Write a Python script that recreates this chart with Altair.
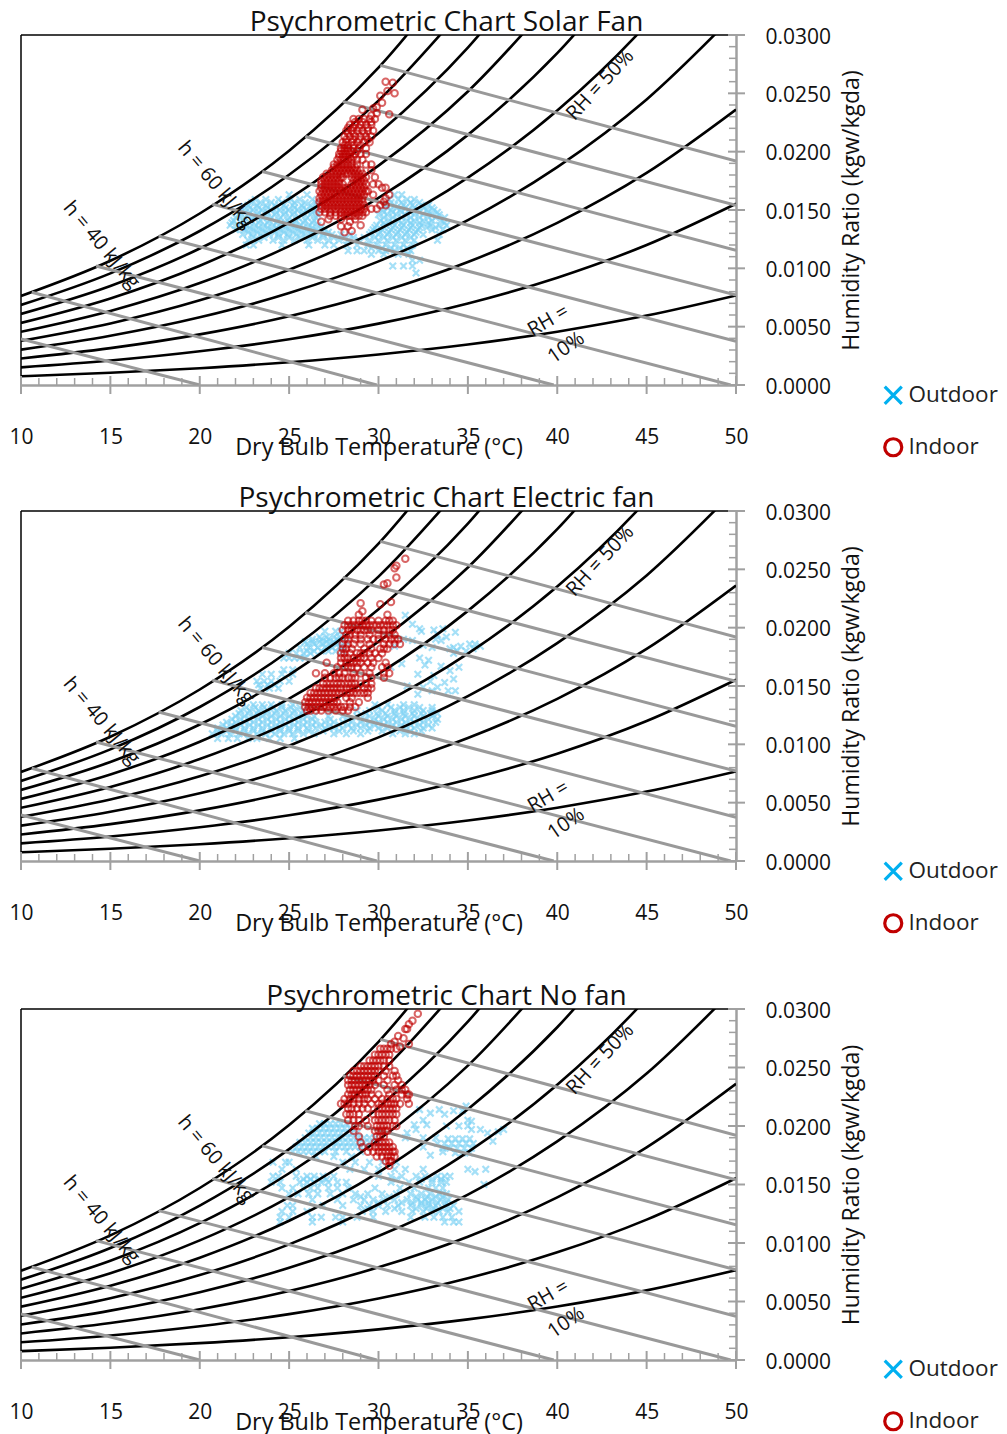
import altair as alt
import pandas as pd

FONT = "Open Sans"
SERIES = ["Outdoor", "Indoor"]
T_GRID = [10, 15, 20, 25, 30, 35, 40, 45, 50]
RH_CURVES = {
    10: [.000755, .00105, .00144, .00195, .00262, .00347, .00457, .00595, .00768],
    20: [.001511, .00210, .00289, .00392, .00526, .00699, .00920, .01200, .01554],
    30: [.00227, .00316, .00434, .00589, .00792, .01054, .01390, .01818, .02361],
    40: [.00303, .00422, .00580, .00788, .01060, .01413, .01868, .02448, .03188],
    50: [.00379, .00528, .00726, .00988, .01331, .01777, .02352, .03091, .04037],
    60: [.00456, .00635, .00874, .01190, .01604, .02144, .02844, .03746, None],
    70: [.00532, .00742, .01022, .01392, .01880, .02516, .03344, None, None],
    80: [.00609, .00849, .01170, .01596, .02158, .02892, .03851, None, None],
    90: [.00686, .00957, .01320, .01802, .02438, .03273, None, None, None],
    100: [.00763, .01065, .01470, .02008, .02720, .03658, None, None, None],
}
# enthalpy lines: (start T, start w, end T, end w)
H_LINES = {
    20: (10, .00394, 20, 0),
    30: (10.6, .00795, 29.9, 0),
    40: (14.2, .0102, 39.8, 0),
    50: (17.7, .01277, 49.7, 0),
    60: (20.7, .0155, 50, .00374),
    70: (23.5, .0183, 50, .0077),
    80: (25.9, .0213, 50, .01155),
    90: (28.0, .0243, 50, .0154),
    100: (30.1, .0274, 50, .0192),
}
X_MAJOR = [10, 15, 20, 25, 30, 35, 40, 45, 50]
X_MINOR = [11, 12, 13, 14, 16, 17, 18, 19, 21, 22, 23, 24, 26, 27, 28, 29, 31, 32, 33, 34, 36, 37, 38, 39, 41, 42, 43, 44, 46, 47, 48, 49]
Y_MAJOR = [0, .005, .01, .015, .02, .025, .03]
Y_MINOR = [.001, .002, .003, .004, .006, .007, .008, .009, .011, .012, .013, .014, .016, .017, .018, .019, .021, .022, .023, .024, .026, .027, .028, .029]
LABELS = [("h = 60 kJ/kg", 20.9, .01715, 50), ("h = 40 kJ/kg", 14.5, .0120, 50),
          ("RH = 50%", 42.4, .0257, 313), ("RH =", 39.5, .0055, 330), ("10%", 40.5, .0032, 325)]

# humidity ratio in g/kg: [dry bulb temperatures read along that row]
SOLAR_OUT = [
 (16.3,[25.0,26.0,30.9,31.3]),
 (15.9,[23.1,23.7,24.4,25.1,25.6,26.3,30.6,31.1,31.6,32.0]),
 (15.65,[22.9,23.4,24.0,24.6,25.3,25.9,26.5,30.7,31.3,31.8,32.3]),
 (15.4,[22.7,23.2,23.7,24.2,24.7,25.2,25.7,26.2,26.6,30.4,30.9,31.4,31.9,32.4,32.8]),
 (15.2,[22.8,23.3,23.8,24.3,24.8,25.3,25.8,26.3,30.5,31.0,31.5,32.0,32.5,33.0]),
 (15.0,[22.5,23.0,23.5,24.0,24.5,25.0,25.5,26.0,26.5,30.2,30.7,31.2,31.7,32.2,32.7,33.1]),
 (14.8,[22.3,22.8,23.3,23.8,24.3,24.8,25.3,25.8,26.3,30.3,30.8,31.3,31.8,32.3,32.8,33.3]),
 (14.6,[22.2,22.7,23.2,23.7,24.2,24.7,25.2,25.7,26.2,26.6,30.0,30.5,31.0,31.5,32.0,32.5,33.0,33.4]),
 (14.35,[22.0,22.5,23.0,23.5,24.0,24.5,25.0,25.5,26.0,26.5,30.3,30.8,31.3,31.8,32.3,32.8,33.2,33.7]),
 (14.1,[21.9,22.4,22.9,23.4,23.9,24.4,24.9,25.4,25.9,26.4,30.1,30.6,31.1,31.6,32.0,32.5,33.0,33.5]),
 (13.9,[21.8,22.3,22.8,23.3,23.8,24.3,24.8,25.3,25.8,26.3,30.3,30.8,31.3,31.8,32.3,32.8,33.7]),
 (13.7,[21.7,22.1,22.6,23.1,23.6,24.1,24.6,25.1,25.6,26.1,26.6,29.9,30.4,30.9,31.4,31.9,32.4,32.9,33.4,33.8]),
 (13.5,[22.3,22.8,23.3,23.8,24.3,24.8,25.3,25.8,26.3,26.8,29.8,30.3,30.8,31.3,31.8,32.3,32.7,33.2]),
 (13.3,[22.0,22.5,23.0,23.5,24.0,24.5,25.0,25.5,26.0,26.5,27.0,29.7,30.2,30.7,31.2,31.7,32.2,33.0,33.6]),
 (13.1,[22.7,23.2,23.7,24.2,24.7,25.2,25.7,26.2,26.7,27.2,29.6,30.1,30.6,31.1,31.6,32.1]),
 (12.9,[22.4,22.9,23.4,23.9,24.4,24.9,25.4,25.9,26.4,26.9,27.4,27.9,28.4,29.5,30.0,30.5,31.0,31.5,32.0,32.5,33.4]),
 (12.65,[23.0,23.6,24.4,25.0,25.6,26.3,26.9,27.5,28.1,28.6,29.2,29.8,30.3,30.8,31.3,31.8]),
 (12.4,[22.7,23.3,24.1,24.7,25.3,26.0,26.6,27.2,27.8,28.3,28.9,29.5,30.0,30.5,31.0,31.5,32.0,33.3]),
 (12.0,[22.6,23.0,24.6,26.1,27.0,27.5,28.2,28.8,29.4,29.9,30.4,30.9,31.4,31.9]),
 (11.75,[29.6,30.2,30.7,31.2,31.6]),
 (11.5,[28.3,28.8,29.2,30.0,30.4,30.9,31.4,31.8]),
 (11.2,[29.6,30.3,31.1,31.7]),
 (10.7,[31.9,32.3]),
 (10.2,[30.8,31.4,31.9]),
 (9.6,[32.1]),
]
SOLAR_IN = [
 (26.0,[30.4]),(25.9,[30.8]),(25.2,[30.5]),(25.0,[30.9]),(24.8,[30.1]),(24.2,[30.2]),
 (23.8,[29.9]),(23.7,[29.7]),(23.6,[29.1]),(23.3,[29.9]),(23.2,[30.6]),(23.1,[29.6]),
 (22.8,[28.6,28.9,29.2,29.5,29.8]),
 (22.55,[28.7,29.1,29.6]),
 (22.3,[28.4,28.7,29.0,29.3,29.6]),
 (22.05,[28.3,28.6,28.9,29.4]),
 (21.8,[28.2,28.5,28.8,29.1,29.4,29.7]),
 (21.55,[28.3,28.6,29.2]),
 (21.3,[28.1,28.4,28.7,29.0,29.3,29.6]),
 (21.05,[28.2,28.6,28.9,29.4]),
 (20.8,[28.0,28.2,28.5,28.8,29.2,29.5]),
 (20.55,[28.1,28.3,28.6,29.0]),
 (20.3,[27.9,28.1,28.3,28.6,28.9,29.3]),
 (20.05,[27.9,28.1,28.3,28.5,28.8]),
 (19.8,[27.8,28.0,28.2,28.4,28.7,29.0,29.3]),
 (19.55,[27.8,28.0,28.2,28.4,28.6]),
 (19.3,[27.7,27.9,28.1,28.3,28.5,28.8,29.1]),
 (18.9,[27.5,27.7,27.9,28.1,28.3,28.5,28.8,29.3,29.6]),
 (18.65,[27.5,27.7,27.9,28.1,28.3,28.5,28.7]),
 (18.4,[27.4,27.6,27.8,28.0,28.2,28.4,28.6,28.8,29.0,29.6]),
 (18.1,[27.1,27.3,27.5,27.7,27.9,28.1,28.3,28.5,28.7,28.9,29.1]),
 (17.8,[26.9,27.1,27.3,27.5,27.7,27.9,28.0,28.5,28.7,28.9,29.1,29.3,29.8]),
 (17.5,[26.8,27.0,27.2,27.4,27.6,27.8,28.6,28.8,29.0,29.2]),
 (17.2,[26.8,27.0,27.2,27.4,27.6,27.8,28.0,28.5,28.7,28.9,29.1,29.3,29.7,30.0]),
 (16.9,[26.8,27.0,27.2,27.4,27.6,27.8,28.0,28.2,28.4,28.6,28.8,29.0,29.2,30.2,30.4]),
 (16.6,[26.7,26.9,27.1,27.3,27.5,27.7,27.9,28.1,28.3,28.5,28.7,28.9,29.1,29.3,29.4]),
 (16.3,[26.8,27.0,27.2,27.4,27.6,27.8,28.0,28.2,28.4,28.6,28.8,29.0,29.2,29.7,30.6]),
 (16.0,[26.7,26.9,27.1,27.3,27.5,27.7,27.9,28.1,28.3,28.5,28.7,28.9,29.1,30.4]),
 (15.7,[26.7,26.9,27.1,27.3,27.5,27.7,27.9,28.1,28.3,28.5,28.7,28.9,29.1,30.3]),
 (15.4,[26.8,27.0,27.2,27.4,27.6,27.8,28.0,28.2,28.4,28.6,28.8,29.0,29.2,30.4,30.1]),
 (15.1,[26.8,27.0,27.2,27.4,27.6,27.8,28.0,28.2,28.4,28.6,28.8,29.0,29.2,29.6,29.9]),
 (14.8,[26.7,27.0,27.3,27.6,27.9,28.1,28.3,28.5,28.7,28.9,29.1,29.3]),
 (14.5,[27.3,27.6,27.9,28.1,28.3,28.5,28.7,28.9,29.1]),
 (14.2,[27.2,27.9,28.7]),(14.0,[26.8,28.4]),(13.7,[29.0]),(13.6,[27.9,28.3]),(13.2,[28.5]),(13.1,[28.1]),
]
ELEC_OUT = [
 (10.5,[21.0,21.6,22.1,22.7,23.2,23.9,24.5,25.3]),
 (10.9,[20.7,21.2,21.7,22.2,22.7,23.2,23.7,24.2,24.7,25.2,25.8,26.4,27.5,28.2,29.0,30.8,31.5,32.0]),
 (11.15,[21.0,21.5,22.0,22.5,23.0,23.5,24.0,24.5,25.0,25.5,26.1,26.9,27.8,28.6,29.4,30.2,31.2,31.8,32.4]),
 (11.4,[21.0,21.5,22.0,22.5,23.0,23.5,24.0,24.5,25.0,25.5,26.0,26.5,27.0,27.5,28.0,28.5,29.0,29.5,30.0,30.5,31.0,31.5,32.0,32.5,33.0]),
 (11.65,[21.3,21.8,22.3,22.8,23.3,23.8,24.3,24.8,25.3,25.8,26.3,26.8,27.3,27.8,28.3,28.8,29.3,29.8,30.3,30.8,31.3,31.8,32.3,32.8]),
 (11.9,[21.5,22.0,22.5,23.0,23.5,24.0,24.5,25.0,25.5,26.0,26.5,27.0,27.5,28.0,28.5,29.0,29.5,30.0,30.5,31.0,31.5,32.0,32.5,33.2]),
 (12.15,[21.8,22.3,22.8,23.3,23.8,24.3,24.8,25.3,25.8,26.3,27.3,28.3,29.2,29.8,30.3,30.8,31.3,31.8,32.3,32.8,33.3]),
 (12.4,[22.0,22.5,23.0,23.5,24.0,24.5,25.0,25.5,26.0,26.4,27.2,28.0,28.8,29.5,30.0,30.5,31.0,31.5,32.0,32.5,33.0]),
 (12.65,[22.2,22.7,23.2,23.7,24.2,24.7,25.2,25.7,29.3,29.9,30.4,30.9,31.4,31.9,32.4,32.9,33.3]),
 (12.9,[22.3,22.8,23.3,23.8,24.3,24.8,25.3,25.8,28.8,29.5,30.2,30.9,31.4,32.0,32.5,33.0]),
 (13.15,[22.6,23.1,23.6,24.1,24.6,25.1,25.6,30.0,30.7,31.2,31.7,32.3,33.0]),
 (13.4,[23.0,23.5,24.0,24.6,25.2,29.8,30.5,31.4,32.0]),
 (14.6,[33.0,33.9,34.3]),(14.8,[23.4,23.9,24.4]),(14.3,[32.2]),(14.9,[32.5,33.3]),(15.0,[31.6]),
 (15.1,[23.3,23.8,24.2]),
 (15.4,[23.2,23.6,24.0,24.5,25.0,32.9]),(15.3,[33.7]),(15.6,[34.2]),(15.9,[33.1]),
 (16.0,[23.5,24.0,24.6,25.2,32.2]),(16.3,[34.0]),(16.4,[24.7,25.2]),(16.6,[30.7,34.5]),(16.7,[33.5]),(16.8,[32.6]),(16.9,[31.3]),
 (17.2,[32.8]),(17.4,[24.7,25.0,25.3,25.6,25.9,32.3]),(17.8,[25.0,25.4,25.8,26.2,34.2]),(18.0,[34.4,34.9,26.0,26.4,26.8,27.2,27.6,28.0]),(18.2,[34.0,35.3]),
 (18.3,[25.6,26.1,26.6,27.0,27.4,27.8,28.0,33.0,34.2]),(18.4,[30.9,34.6,35.7]),(18.5,[32.5]),(18.6,[35.1,35.4,26.0,26.4,26.9,27.3,27.7]),
 (18.8,[25.9,26.3,26.7,27.1,27.5,27.9,28.2]),(18.9,[31.9,33.5]),(19.0,[31.4,33.2,26.3,26.8,27.2,27.7]),(19.2,[26.7,27.1,27.5,27.8,33.8]),
 (19.4,[33.3]),(19.6,[34.3]),(19.7,[27.0,27.6,27.9,32.4]),(19.8,[33.1]),(19.9,[32.3,33.6]),(20.3,[31.9]),(21.06,[31.5]),
]
ELEC_IN = [
 (25.9,[31.5]),(25.3,[31.0]),(25.1,[30.9]),(24.3,[31.0]),(23.8,[30.5]),(23.7,[30.3]),(22.2,[30.7]),(22.0,[30.1]),(22.1,[29.0]),
 (21.4,[29.1]),(21.1,[28.9,30.5]),
 (20.6,[28.3,28.6,28.9,29.1,29.3,29.6,30.0,30.4,30.6,30.8]),
 (20.2,[28.1,28.3,28.5,28.7,28.9,29.1,29.3,29.5,29.7,29.9,30.1,30.3,30.5,30.8,31.0]),
 (19.8,[28.0,28.3,28.5,28.8,29.0,29.2,29.4,29.6,30.0,30.3,30.6,30.8]),
 (19.4,[28.2,28.4,28.7,29.0,29.5,30.0,30.3,30.6,30.9]),
 (19.0,[28.1,28.3,28.7,29.0,29.4,29.7,30.0,30.4,30.7,30.9,31.1]),
 (18.6,[28.0,28.3,28.6,29.0,29.5,30.3,30.6,30.9,31.2]),
 (18.2,[28.0,28.2,28.5,29.2,29.6,30.1,30.3,30.5]),
 (17.8,[27.9,28.1,28.4,28.8,29.0,29.2,29.5,29.8,30.2]),
 (17.4,[27.9,28.1,28.3,28.6,28.8,29.0,29.2,29.6,30.0]),
 (17.0,[27.1,27.9,28.2,28.4,28.6,28.8,29.0,29.4,29.7,30.4]),
 (16.6,[27.7,28.1,28.3,28.5,28.8,29.2,29.6,30.2,30.5]),
 (16.1,[26.5,27.0,27.5,27.8,28.1,28.6,29.0,29.5,30.3,30.6]),
 (15.7,[27.0,27.3,27.6,27.8,28.0,28.3,28.5,28.7,29.3,29.6,30.3]),
 (15.2,[26.9,27.1,27.3,27.5,27.7,27.9,28.1,28.3,28.5,28.7,29.0,29.3,29.6]),
 (14.8,[26.5,26.7,26.9,27.1,27.3,27.5,27.7,27.9,28.2,28.4,28.6,28.8,29.2,29.4,29.6]),
 (14.4,[26.2,26.4,26.6,26.8,27.0,27.2,27.4,27.6,27.8,28.0,28.2,28.4,28.6,28.8,29.0,29.2,29.4]),
 (14.0,[26.0,26.2,26.4,26.6,26.8,27.0,27.2,27.4,27.6,28.2,28.5,29.4]),
 (13.6,[25.9,26.1,26.3,26.5,26.7,26.9,27.1,27.3,27.5,27.7,28.4,28.9]),
 (13.2,[25.9,26.1,26.3,26.5,26.7,26.9,27.1,27.3,27.5,27.7,27.9,28.1,28.4,28.7]),
 (12.9,[26.0,26.2,26.5,26.8,27.2,27.6,28.0,28.3]),
]
NOFAN_OUT = [
 (21.7,[34.9]),(21.4,[33.4,32.3]),(21.3,[34.2,34.7]),(21.1,[32.9]),(21.0,[33.7]),(20.5,[32.5,35.0]),(20.4,[35.2]),
 (20.2,[26.7,27.0,27.3,27.6,27.9,28.2]),(20.1,[32.7,32.0]),(20.0,[33.8,34.5,35.0]),
 (19.8,[26.3,26.6,26.9,27.2,27.5,27.8,28.1,28.4]),(19.7,[32.1,35.7,37.0,35.2]),(19.5,[36.7]),
 (19.4,[26.1,26.4,26.7,27.0,27.3,27.6,27.9,28.2,28.5,28.8,31.6,36.1]),
 (19.0,[25.9,26.2,26.5,26.8,27.1,27.4,27.7,28.0,28.3,28.6,28.9,29.2,29.5,29.8,32.5,33.2,31.5]),
 (18.9,[33.9,34.3,34.7,35.1]),(18.7,[36.4]),
 (18.6,[25.6,25.9,26.2,26.5,26.8,27.1,27.4,27.7,28.0,28.3,28.6,28.9,29.2,29.5,29.8,30.0]),
 (18.5,[33.3,33.7,34.1,34.5,34.9,35.3]),
 (18.2,[25.4,25.7,26.0,26.3,26.6,26.9,27.2,27.5,27.8,28.1,28.4,28.7,29.0,29.3,32.5]),
 (18.1,[33.6,34.0,34.4,34.8,35.2]),
 (17.8,[25.2,25.5,25.8,26.1,26.4,26.7,27.0,27.6,28.2,29.0,33.6]),
 (17.7,[34.3,34.7,35.1]),(17.5,[32.9]),(17.4,[26.5,27.5,28.5]),
 (16.9,[24.1,24.8,25.0,28.0,28.7,29.5,30.2,31.0]),
 (16.3,[24.6,25.4,28.4,29.2,30.0,30.9,31.5,32.5,35.0,36.0]),(16.1,[35.4]),
 (15.7,[24.1,24.4,25.4,26.0,26.4,26.9,27.5,30.0,30.7,31.3,32.1,32.6,33.3,33.7,34.0]),
 (15.45,[25.8,26.2,26.7,27.1,31.0,32.4,33.0,33.5]),
 (15.2,[24.0,24.5,25.6,26.0,26.4,26.8,27.2,27.7,28.2,30.7,31.7,32.3,33.0,33.5,33.8]),(15.0,[35.9]),
 (14.7,[24.6,25.2,25.8,26.2,26.6,27.2,27.7,28.3,29.8,31.2,32.0,32.8,33.2,33.6]),
 (14.2,[25.0,25.5,26.1,26.6,27.3,28.0,28.7,29.4,30.2,31.0,31.8,32.4,32.9,33.4,33.8]),
 (13.95,[29.0,30.6,32.1,32.7,33.2,33.6]),
 (13.7,[26.3,27.7,28.6,29.2,29.7,30.3,30.9,31.6,32.2,32.6,33.0,33.5,33.9]),
 (13.45,[30.0,31.3,31.9,32.4,32.8,33.3,33.8]),
 (13.2,[24.9,25.2,26.9,28.0,29.0,29.5,30.0,30.5,31.1,31.8,32.4,32.8,33.2,33.7,34.2]),
 (12.95,[29.4,30.9,32.1,32.7,33.1,33.6,34.0]),
 (12.7,[24.6,25.2,26.0,29.1,29.7,30.4,31.3,31.9,32.5,33.0,33.4,33.9,34.5]),
 (12.2,[24.5,25.0,26.3,26.8,27.6,28.0,28.8,29.7,31.8,32.6,33.1,33.6,34.1]),
 (11.8,[24.5,26.3,28.0,33.7,34.2,34.5]),
]
NOFAN_IN = [
 (29.6,[32.2]),(29.0,[31.9]),(28.7,[31.7]),(28.3,[31.5,31.6]),(27.7,[31.1]),(27.5,[31.4]),(27.2,[30.9]),(27.0,[30.7,31.7]),(26.8,[31.2]),
 (26.6,[30.1,30.3,30.5,30.7,31.0]),
 (26.1,[29.8,30.0,30.2,30.4,30.6]),
 (25.6,[29.5,29.7,29.9,30.1,30.3,30.6]),
 (25.1,[29.0,29.2,29.4,29.6,29.8,30.0,30.3,30.6]),
 (24.7,[28.6,28.8,29.0,29.2,29.4,29.6,29.8,30.0,30.4,30.9]),
 (24.3,[28.4,28.6,28.8,29.0,29.2,29.4,29.6,29.8,30.3,30.8,31.0]),
 (23.9,[28.3,28.5,28.7,28.9,29.1,29.3,29.5,29.7,30.0,30.5,31.1]),
 (23.5,[28.3,28.5,28.7,28.9,29.1,29.3,29.5,29.8,30.3,30.9,31.3]),
 (23.1,[28.4,28.6,28.8,29.0,29.2,29.4,29.6,30.5,31.0,31.3,31.5]),
 (22.7,[28.3,28.5,28.7,28.9,29.1,29.3,29.6,30.0,30.6,31.3,31.6,31.7]),
 (22.3,[28.1,28.4,28.6,28.9,29.2,29.4,29.8,30.2,30.5,30.8,31.0,31.6]),
 (21.9,[27.9,28.1,28.3,28.6,28.9,29.2,29.6,30.0,30.2,30.5,30.7,30.9,31.2,31.7]),
 (21.5,[28.3,28.5,28.8,29.1,29.4,30.0,30.2,30.4,30.6,30.8,31.0]),
 (21.0,[28.2,28.4,28.6,28.9,29.7,30.0,30.2,30.4,30.6,30.8,31.0]),
 (20.5,[28.3,28.6,28.9,29.3,29.8,30.0,30.2,30.4,30.6,30.9]),
 (20.0,[28.7,28.9,29.4,29.9,30.1,30.3,30.5,30.8,31.0]),
 (19.6,[28.6,29.8,30.0,30.2,30.4,30.5]),
 (19.1,[28.9,29.9,30.1,30.3]),
 (18.6,[29.0,29.8,30.0,30.2,30.4,30.6]),
 (18.2,[29.1,29.5,29.8,30.0,30.2,30.4,30.6,30.8]),
 (17.8,[29.4,29.7,30.0,30.2,30.4,30.6,30.8,30.9]),
 (17.4,[29.9,30.2,30.5,30.7,30.9]),
 (17.0,[30.4,30.6,30.7]),
 (16.6,[30.6]),
]

X_PATH = "M-1,-1L1,1M1,-1L-1,1"


def points(rows):
    return pd.DataFrame([{"T": t, "w": w / 1000} for w, ts in rows for t in ts])


curve_df = pd.DataFrame([{"T": t, "w": v, "rh": rh} for rh, vs in RH_CURVES.items()
                         for t, v in zip(T_GRID, vs) if v is not None])
h_df = pd.DataFrame([{"T": a, "w": b, "h": h} for h, (a, b, c, d) in H_LINES.items()] +
                    [{"T": c, "w": d, "h": h} for h, (a, b, c, d) in H_LINES.items()])
legend_df = pd.DataFrame({"T": [10, 10], "w": [0, 0], "series": SERIES})

X_SCALE = alt.Scale(domain=[10, 50], nice=False, zero=False)
Y_SCALE = alt.Scale(domain=[0, 0.03], nice=False, zero=False)
X_AXIS = alt.Axis(values=X_MAJOR, ticks=False, grid=False, domainColor="#a0a0a0", domainWidth=2.5,
                  labelFontSize=21, labelFont=FONT, labelColor="#111", labelPadding=41, labelFlush=False,
                  labelOverlap=False, title="Dry Bulb Temperature (°C)", titleFont=FONT, titleFontSize=23.4,
                  titleFontWeight="normal", titleColor="#111", titleY=62, titleBaseline="middle")
Y_AXIS = alt.Axis(orient="right", values=Y_MAJOR, format=".4f", ticks=False, grid=False, domainColor="#a0a0a0",
                  domainWidth=2.5, labelFontSize=21, labelFont=FONT, labelColor="#111", labelPadding=29,
                  labelOverlap=False, labelFlush=False, labelOffset=2, title="Humidity Ratio (kgw/kgda)",
                  titleFont=FONT, titleFontSize=23, titleFontWeight="normal", titleColor="#111", titlePadding=21,
                  titleAngle=270, titleBaseline="middle")
LEGEND = alt.Legend(orient="none", legendX=861, legendY=349, title=None, symbolSize=290, symbolStrokeWidth=3.2,
                    symbolOpacity=1, labelFontSize=22.5, labelFont=FONT, labelColor="#222", rowPadding=21, labelOffset=4)
COLOR = alt.Color("series:N", scale=alt.Scale(domain=SERIES, range=["#00B0F0", "#C00000"]), legend=LEGEND)
SHAPE = alt.Shape("series:N", scale=alt.Scale(domain=SERIES, range=[X_PATH, "circle"]), legend=LEGEND)
xe = alt.X("T:Q", scale=X_SCALE, axis=X_AXIS)
ye = alt.Y("w:Q", scale=Y_SCALE, axis=Y_AXIS)


def panel(title, rows_out, rows_in, height):
    width = 715
    legend_layer = alt.Chart(legend_df).mark_point(filled=False, opacity=0).encode(x=xe, y=ye, color=COLOR, shape=SHAPE)
    outdoor = alt.Chart(points(rows_out)).mark_point(filled=False, size=42, strokeWidth=2.2, color="#7FD3F5", shape=X_PATH).encode(
        x=xe, y=ye)
    indoor = alt.Chart(points(rows_in)).mark_point(filled=False, size=42, strokeWidth=2, color="#C00000", opacity=0.6).encode(
        x=xe, y=ye)
    curves = alt.Chart(curve_df).mark_line(color="black", strokeWidth=2.6, interpolate="monotone", clip=True).encode(
        x=xe, y=ye, detail="rh:N")
    hlines = alt.Chart(h_df).mark_line(color="#999999", strokeWidth=3, clip=True).encode(x=xe, y=ye, detail="h:N")
    left = alt.Chart(pd.DataFrame({"k": [0]})).mark_rule(color="black", size=1.5).encode(
        x=alt.value(0), y=alt.value(0), y2=alt.value(height - 9))
    top = alt.Chart(pd.DataFrame({"k": [0]})).mark_rule(color="black", size=1.5).encode(
        y=alt.value(0), x=alt.value(0), x2=alt.value(width - 8))
    gray = "#a0a0a0"
    xmaj = alt.Chart(pd.DataFrame({"T": X_MAJOR})).mark_rule(color=gray, size=2).encode(
        x=xe, y=alt.value(height - 9), y2=alt.value(height + 9))
    xmin = alt.Chart(pd.DataFrame({"T": X_MINOR})).mark_rule(color=gray, size=1.5).encode(
        x=xe, y=alt.value(height - 7), y2=alt.value(height))
    ymaj = alt.Chart(pd.DataFrame({"w": Y_MAJOR})).mark_rule(color=gray, size=2).encode(
        y=ye, x=alt.value(width - 8), x2=alt.value(width + 9))
    ymin = alt.Chart(pd.DataFrame({"w": Y_MINOR})).mark_rule(color=gray, size=1.5).encode(
        y=ye, x=alt.value(width - 7), x2=alt.value(width))
    texts = [alt.Chart(pd.DataFrame({"T": [t], "w": [w], "label": [s]})).mark_text(
        font=FONT, fontSize=20, angle=ang, color="#111", align="center", baseline="middle").encode(
        x=xe, y=ye, text="label:N") for s, t, w, ang in LABELS]
    return alt.layer(legend_layer, outdoor, left, top, curves, hlines, xmin, xmaj, ymin, ymaj, indoor, *texts).properties(
        width=width, height=height,
        title=alt.TitleParams(title, font=FONT, fontSize=28, fontWeight="normal", color="#111", anchor="middle",
                              dx=68, offset=-11),
        view=alt.ViewConfig(stroke=None))


p1 = panel("Psychrometric Chart Solar Fan", SOLAR_OUT, SOLAR_IN, 350)
p2 = panel("Psychrometric Chart Electric fan", ELEC_OUT, ELEC_IN, 350)
p3 = panel("Psychrometric Chart No fan", NOFAN_OUT, NOFAN_IN, 351)

top_pair = alt.vconcat(p1, p2, spacing=22).resolve_scale(color="independent", shape="independent")
chart = alt.vconcat(top_pair, p3, spacing=44).resolve_scale(color="independent", shape="independent").properties(
    padding={"left": 0, "top": 1, "right": 0, "bottom": 0})
chart.save("out.html", embed_options={"renderer": "svg", "actions": False})
